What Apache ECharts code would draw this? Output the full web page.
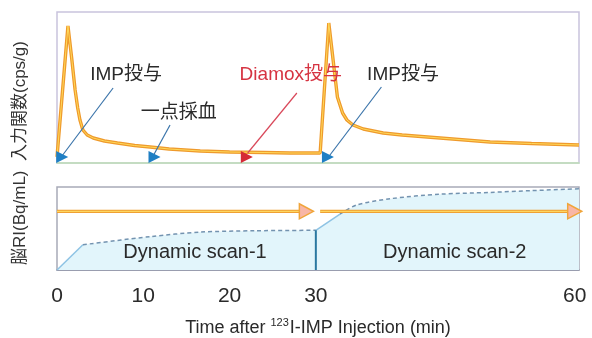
<!DOCTYPE html>
<html><head><meta charset="utf-8">
<script src="https://cdn.jsdelivr.net/npm/echarts@6/dist/echarts.min.js"></script>
<style>html,body{margin:0;padding:0;background:#fff}#c{width:592px;height:338px}</style>
</head><body><div id="c"></div>
<script>
const FONT = "'Liberation Sans','Noto Sans CJK JP',sans-serif";

// Input function (top panel): time (min) and counts (arbitrary units)
const inputT = [0, 1.27, 1.7, 2.1, 2.4, 2.66, 3.0, 3.5, 4.2, 5.5, 7, 9, 10.8, 13, 16.6, 20, 24, 27, 30.5,
                31.5, 32.0, 32.5, 33.1, 33.6, 34.3, 35.5, 37.8, 40, 44.4, 50.2, 55, 60.5];
const inputV = [6, 137, 105, 73, 55, 43, 33, 28, 25, 22, 20, 17.5, 16, 14, 12, 11, 10.5, 10, 10,
                140, 103, 66, 50, 43, 38, 34, 30, 28, 25, 21, 19.5, 18];

// Event markers (top panel)
const markerT = [0.6, 11.3, 22.0, 31.4];
const markerV = [6, 6, 6, 6];
const markerKind = ['imp', 'sample', 'diamox', 'imp'];
const markerText = ['IMP投与', '一点採血', 'Diamox投与', 'IMP投与'];
// label anchor (data coords) and pointer start/end (data coords)
const labelT = [8.0, 14.1, 27.1, 40.1];
const labelV = [88, 50, 88, 88];
const pointerT = [6.5, 13.1, 27.8, 37.6];
const pointerV = [75, 38, 70, 76];
const pointerEndT = [0.4, 11.2, 22.1, 31.2];
const pointerEndV = [5, 8, 10, 3];

// Brain RI (bottom panel)
const scan1T = [0, 3, 10.8, 16.6, 23, 30];
const scan1V = [0, 28, 37, 42, 43.5, 44];
const scan2T = [30, 32.8, 34.7, 38.6, 44.4, 50.2, 55, 60.5];
const scan2V = [44, 62, 72, 79, 84, 86, 88, 90];
const scanLabels = ['Dynamic scan-1', 'Dynamic scan-2'];
const scanLabelT = [16, 46.1];
const scanLabelV = [19, 19];

// Scan acquisition arrows
const arrowStartT = [0, 30.5];
const arrowEndT = [28.3, 59.6];
const arrowHeadT = [28.9, 60.0];
const arrowV = 65;

const xTickLabels = [0, 10, 20, 30, 60];

const zip = (a, b) => a.map((v, i) => [v, b[i]]);
const kindColor = {imp: '#1f7fc4', sample: '#1f7fc4', diamox: '#d52a36'};
const textColor = {imp: '#2a2a2a', sample: '#2a2a2a', diamox: '#d63442'};
const pointerColor = {imp: '#3a74aa', sample: '#3a74aa', diamox: '#d9485a'};

const chart = echarts.init(document.getElementById('c'), null, {renderer: 'canvas'});

const xCommon = {type: 'value', min: 0, max: 60.5, interval: 10, splitLine: {show: false}, axisTick: {show: false}};

const series = [];
// top: input function
series.push({type: 'line', xAxisIndex: 0, yAxisIndex: 0, data: zip(inputT, inputV), symbol: 'none',
  lineStyle: {color: '#ef9a2c', width: 3.4}, z: 3, silent: true});
series.push({type: 'line', xAxisIndex: 0, yAxisIndex: 0, data: zip(inputT, inputV), symbol: 'none',
  lineStyle: {color: '#ffd95a', width: 1}, z: 4, silent: true});
// pointers
series.push({type: 'lines', coordinateSystem: 'cartesian2d', xAxisIndex: 0, yAxisIndex: 0, z: 5,
  data: pointerT.map((t, i) => ({coords: [[t, pointerV[i]], [pointerEndT[i], pointerEndV[i]]],
    lineStyle: {color: pointerColor[markerKind[i]], width: 1.2, opacity: 1}})), silent: true});
// markers
series.push({type: 'scatter', xAxisIndex: 0, yAxisIndex: 0, symbol: 'triangle', symbolSize: [12, 12], symbolRotate: -90, z: 6,
  data: markerT.map((t, i) => ({value: [t, markerV[i]], itemStyle: {color: kindColor[markerKind[i]], opacity: 1}})), silent: true});
// marker labels
series.push({type: 'scatter', xAxisIndex: 0, yAxisIndex: 0, symbolSize: 0, z: 7, itemStyle: {color: 'transparent', opacity: 1},
  data: labelT.map((t, i) => ({value: [t, labelV[i]], name: markerText[i],
    label: {show: true, position: 'inside', formatter: '{b}', fontFamily: FONT, fontSize: 19,
      color: textColor[markerKind[i]], textBorderWidth: 0, textBorderColor: 'transparent'}})), silent: true});

// bottom: fills
series.push({type: 'line', xAxisIndex: 1, yAxisIndex: 1, data: zip(scan1T, scan1V), symbol: 'none',
  lineStyle: {width: 0}, areaStyle: {color: '#e2f5fb', opacity: 1}, z: 1, silent: true});
series.push({type: 'line', xAxisIndex: 1, yAxisIndex: 1, data: zip(scan2T, scan2V), symbol: 'none',
  lineStyle: {width: 0}, areaStyle: {color: '#e2f5fb', opacity: 1}, z: 1, silent: true});
// solid initial rises
series.push({type: 'line', xAxisIndex: 1, yAxisIndex: 1, data: zip(scan1T.slice(0, 2), scan1V.slice(0, 2)), symbol: 'none',
  lineStyle: {color: '#8ec3e4', width: 1.5}, z: 2, silent: true});
series.push({type: 'line', xAxisIndex: 1, yAxisIndex: 1, data: zip(scan2T.slice(0, 2), scan2V.slice(0, 2)), symbol: 'none',
  lineStyle: {color: '#8ec3e4', width: 1.5}, z: 2, silent: true});
// dashed continuation
series.push({type: 'line', xAxisIndex: 1, yAxisIndex: 1, data: zip(scan1T.slice(1), scan1V.slice(1)), symbol: 'none', smooth: 0.3,
  lineStyle: {color: '#7393b0', width: 1.5, type: [4, 3]}, z: 2, silent: true});
series.push({type: 'line', xAxisIndex: 1, yAxisIndex: 1, data: zip(scan2T.slice(1), scan2V.slice(1)), symbol: 'none', smooth: 0.3,
  lineStyle: {color: '#7393b0', width: 1.5, type: [4, 3]}, z: 2, silent: true});
// divider at scan change
series.push({type: 'line', xAxisIndex: 1, yAxisIndex: 1, data: [[scan2T[0], 0], [scan2T[0], scan1V[scan1V.length - 1]]], symbol: 'none',
  lineStyle: {color: '#2a78a0', width: 2}, z: 3, silent: true});
// orange arrows
arrowStartT.forEach((s, i) => {
  series.push({type: 'line', xAxisIndex: 1, yAxisIndex: 1, data: [[s, arrowV], [arrowEndT[i], arrowV]], symbol: 'none',
    lineStyle: {color: '#f0a033', width: 3.4}, z: 4, silent: true});
  series.push({type: 'line', xAxisIndex: 1, yAxisIndex: 1, data: [[s, arrowV], [arrowEndT[i], arrowV]], symbol: 'none',
    lineStyle: {color: '#ffe06a', width: 1}, z: 5, silent: true});
});
series.push({type: 'scatter', xAxisIndex: 1, yAxisIndex: 1, symbol: 'triangle', symbolSize: [15, 14], symbolRotate: -90, z: 6,
  data: arrowHeadT.map(t => [t, arrowV]), itemStyle: {color: '#f8b6a6', borderColor: '#f0a53a', borderWidth: 1.5, opacity: 1}, silent: true});
// scan labels
series.push({type: 'scatter', xAxisIndex: 1, yAxisIndex: 1, symbolSize: 0, z: 7, itemStyle: {color: 'transparent', opacity: 1},
  data: scanLabelT.map((t, i) => ({value: [t, scanLabelV[i]], name: scanLabels[i]})),
  label: {show: true, position: 'inside', formatter: '{b}', fontFamily: FONT, fontSize: 20, color: '#2a2a2a',
    textBorderWidth: 0, textBorderColor: 'transparent'}, silent: true});

chart.setOption({
  animation: false,
  backgroundColor: '#fff',
  grid: [
    {left: 57, right: 13, top: 12, height: 151, show: true, borderColor: '#c9c3dd', borderWidth: 1.5, backgroundColor: 'transparent'},
    {left: 57, right: 13, top: 187, height: 92, show: true, borderColor: '#a8aab8', borderWidth: 1.5, backgroundColor: 'transparent'}
  ],
  xAxis: [
    Object.assign({}, xCommon, {gridIndex: 0, axisLabel: {show: false}, axisLine: {show: true, lineStyle: {color: '#bfe0b6', width: 1.5}}}),
    Object.assign({}, xCommon, {gridIndex: 1, axisLine: {show: true, lineStyle: {color: '#8d93a6', width: 1.5}},
      axisLabel: {show: true, fontFamily: FONT, fontSize: 21, color: '#2a2a2a', margin: 16, showMaxLabel: true,
        formatter: v => xTickLabels.indexOf(v) >= 0 ? String(v) : ''},
      name: '{a|Time after }{s|123}{a|I-IMP Injection (min)}', nameLocation: 'middle', nameGap: 47,
      nameTextStyle: {rich: {a: {fontFamily: FONT, fontSize: 18, color: '#2a2a2a', lineHeight: 22},
        s: {fontFamily: FONT, fontSize: 11, color: '#2a2a2a', lineHeight: 22, verticalAlign: 'top', padding: [0, 1, 0, 0]}}}})
  ],
  yAxis: [
    {type: 'value', gridIndex: 0, min: 0, max: 151, show: false},
    {type: 'value', gridIndex: 1, min: 0, max: 92, show: false}
  ],
  graphic: [{type: 'text', x: 20, y: 153, rotation: Math.PI / 2,
    style: {text: '脳RI(Bq/mL)  入力関数(cps/g)', fontFamily: FONT, fontSize: 17, fill: '#333', align: 'center', verticalAlign: 'middle'}}],
  series: series
});
</script></body></html>
